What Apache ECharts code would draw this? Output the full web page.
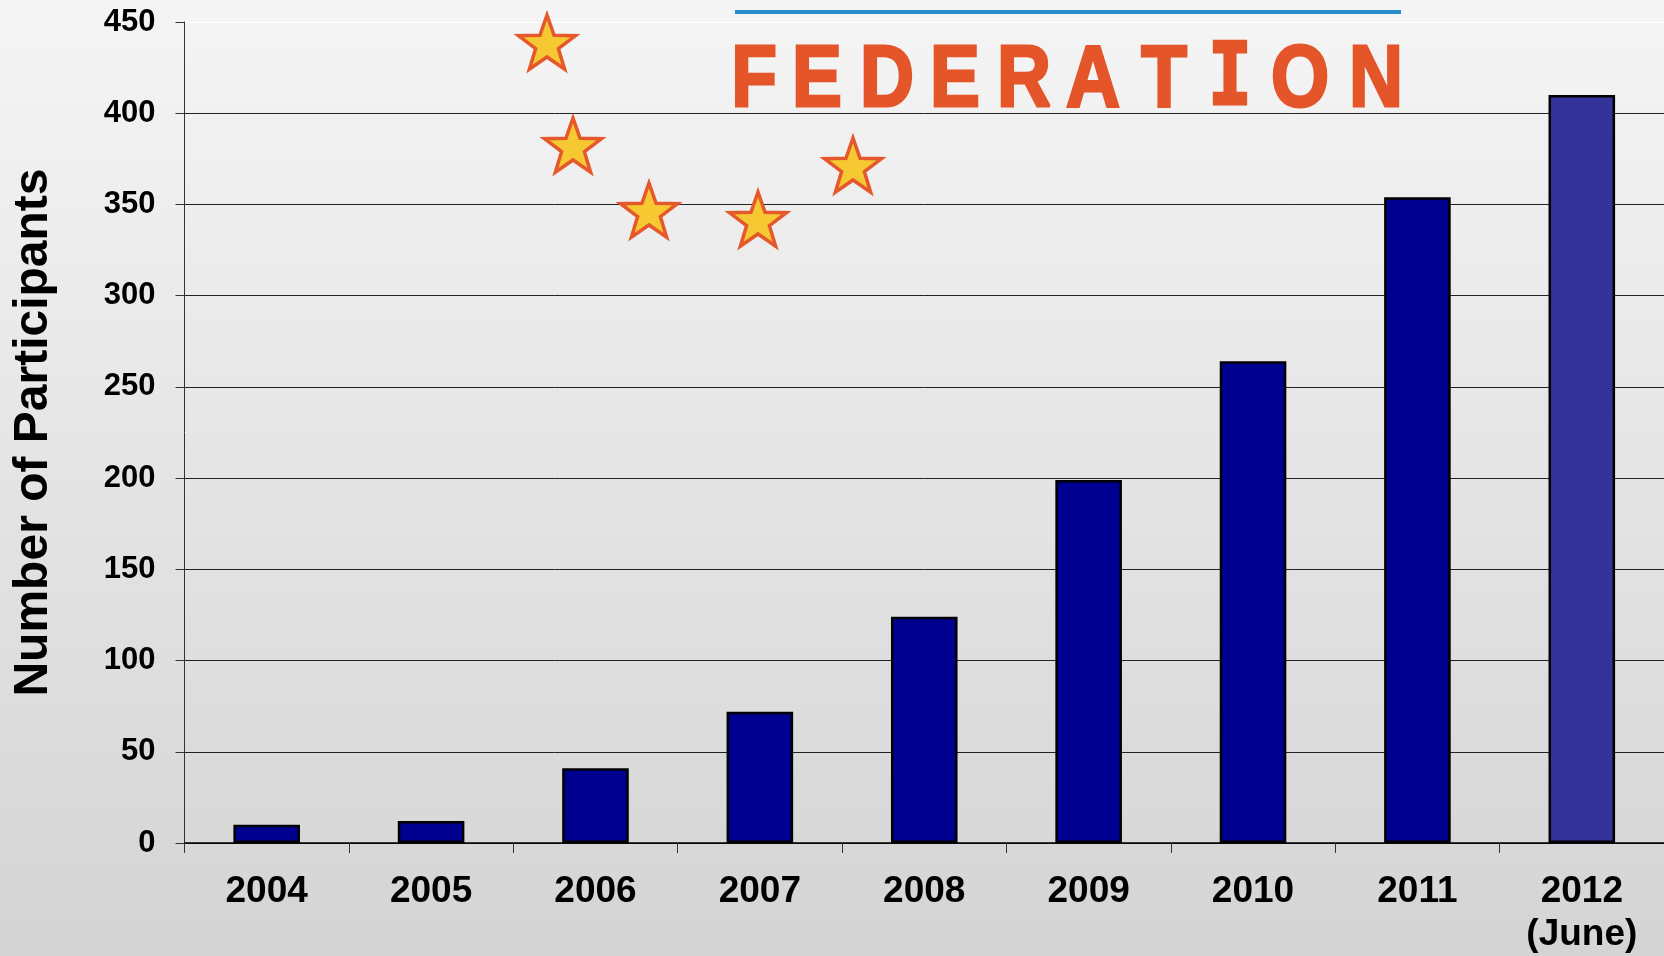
<!DOCTYPE html>
<html lang="en">
<head>
    <meta charset="UTF-8">
    <title>Number of Participants</title>
    <style>
        html, body { margin: 0; padding: 0; }
        #main { width: 1664px; height: 956px; }
    </style>
</head>
<body>
<div id="main"></div>
<script src="https://cdn.jsdelivr.net/npm/echarts@6/dist/echarts.min.js"></script>
<script>
    // data
    var years = ['2004', '2005', '2006', '2007', '2008', '2009', '2010', '2011', '2012\n(June)'];
    var participants = [10, 12, 41, 72, 124, 199, 264, 354, 410];
    var barColors = ['#000090', '#000090', '#000090', '#000090', '#000090', '#000090', '#000090', '#000090', '#333399'];
    var yTicks = [0, 50, 100, 150, 200, 250, 300, 350, 400, 450];

    var myChart = echarts.init(document.getElementById('main'));

    // decorative five-point star (slide artwork, not data)
    function starPoints(cx, cy, r) {
        var pts = [];
        for (var i = 0; i < 10; i++) {
            var rr = i % 2 === 0 ? r : r * 0.4;
            var a = -Math.PI / 2 + i * Math.PI / 5;
            pts.push([cx + rr * Math.cos(a), cy + rr * Math.sin(a)]);
        }
        return pts;
    }

    var stars = [[547, 45], [573, 148], [649, 213], [758, 222], [853, 168]];
    var letters = [
        ['F', 754], ['E', 817], ['D', 887], ['E', 955], ['R', 1024],
        ['A', 1093], ['T', 1164], ['I', 1230], ['O', 1300], ['N', 1376]
    ];

    var graphics = [{
        type: 'line',
        shape: {x1: 735, y1: 12, x2: 1401, y2: 12},
        style: {stroke: '#2a8dc9', lineWidth: 4},
        z: 100
    }];
    letters.forEach(function (l) {
        graphics.push({
            type: 'text',
            x: l[1],
            y: 82,
            scaleX: 0.85,
            z: 100,
            style: {
                text: l[0],
                fill: '#e4552a',
                stroke: '#e4552a',
                lineWidth: 3,
                font: l[0] === 'I' ? 'bold 86px "DejaVu Sans Mono"' : 'bold 88px "Liberation Sans"',
                align: 'center',
                verticalAlign: 'middle'
            }
        });
    });
    stars.forEach(function (s) {
        graphics.push({
            type: 'polygon',
            shape: {points: starPoints(s[0], s[1], 30)},
            style: {fill: '#f6c932', stroke: '#e5582b', lineWidth: 3.5, lineJoin: 'miter'},
            z: 100
        });
    });

    var option = {
        backgroundColor: {
            type: 'linear', x: 0, y: 0, x2: 0, y2: 1,
            colorStops: [{offset: 0, color: '#f5f5f5'}, {offset: 1, color: '#d4d4d4'}]
        },
        textStyle: {fontFamily: '"Liberation Sans", Arial, sans-serif'},
        animation: false,
        grid: {
            left: 184.5,
            width: 1483,
            top: 22,
            height: 824
        },
        xAxis: {
            type: 'category',
            data: years,
            axisLine: {lineStyle: {color: '#000', width: 1.5}},
            axisTick: {
                show: true,
                length: 10,
                lineStyle: {color: '#333', width: 1}
            },
            axisLabel: {
                color: '#000',
                fontSize: 37,
                fontWeight: 'bold',
                lineHeight: 43,
                margin: 27,
                interval: 0
            }
        },
        yAxis: {
            type: 'value',
            min: yTicks[0],
            max: yTicks[yTicks.length - 1],
            interval: 50,
            name: 'Number of Participants',
            nameLocation: 'middle',
            nameGap: 127,
            nameTextStyle: {
                color: '#000',
                fontSize: 48,
                fontWeight: 'bold'
            },
            axisLine: {show: true, lineStyle: {color: '#333', width: 1}},
            axisTick: {show: true, length: 9, lineStyle: {color: '#333'}},
            axisLabel: {
                color: '#000',
                fontSize: 31,
                fontWeight: 'bold',
                margin: 29
            },
            splitLine: {
                show: true,
                lineStyle: {
                    color: ['#222', '#222', '#222', '#222', '#222', '#222', '#222', '#222', '#222', '#fff'],
                    width: 1
                }
            }
        },
        series: [{
            name: 'Participants',
            type: 'bar',
            barWidth: '40.5%',
            data: participants.map(function (v, i) {
                return {value: v, itemStyle: {color: barColors[i]}};
            }),
            itemStyle: {
                borderColor: '#000',
                borderWidth: 2.5
            }
        }],
        graphic: graphics
    };
    myChart.setOption(option);
</script>
</body>
</html>
